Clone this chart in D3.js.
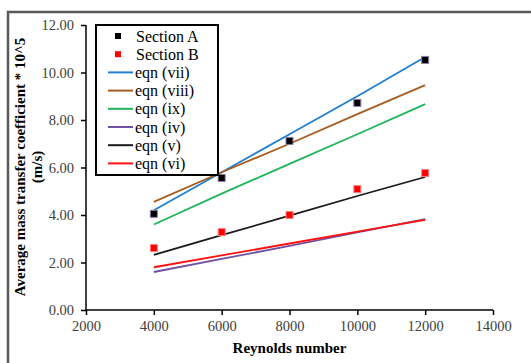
<!DOCTYPE html>
<html>
<head>
<meta charset="utf-8">
<script src="https://cdn.jsdelivr.net/npm/d3@7"></script>
<style>
  body { margin: 0; background: #fff; }
  svg { display: block; font-family: "Liberation Serif", "Times New Roman", serif; }
</style>
</head>
<body>
<div id="chart"></div>
<script>
// Reynolds numbers
var reynolds = [4000, 6000, 8000, 10000, 12000];

// measured points
var sectionA = [4.05, 5.56, 7.12, 8.72, 10.53];
var sectionB = [2.61, 3.28, 4.0, 5.09, 5.77];

// correlation lines
var eqnVii = [4.2, 5.8, 7.4, 9.0, 10.65];
var eqnViii = [4.55, 5.8, 7.0, 8.25, 9.47];
var eqnIx = [3.6, 4.9, 6.15, 7.4, 8.67];
var eqnIv = [1.6, 2.15, 2.7, 3.27, 3.83];
var eqnV = [2.32, 3.15, 3.97, 4.8, 5.6];
var eqnVi = [1.8, 2.3, 2.8, 3.3, 3.79];

var xTicks = [2000, 4000, 6000, 8000, 10000, 12000, 14000];
var yTicks = [0, 2, 4, 6, 8, 10, 12];

var lines = [
    { name: "eqn (vii)", values: eqnVii, color: "#1f7fd0" },
    { name: "eqn (viii)", values: eqnViii, color: "#a85b1e" },
    { name: "eqn (ix)", values: eqnIx, color: "#1fb55a" },
    { name: "eqn (iv)", values: eqnIv, color: "#7050a0" },
    { name: "eqn (v)", values: eqnV, color: "#1a1a1a" },
    { name: "eqn (vi)", values: eqnVi, color: "#ff1010" }
];

var W = 531, H = 363;
var margin = { top: 25, left: 86, right: 38, bottom: 53 };
var width = W - margin.left - margin.right,
    height = H - margin.top - margin.bottom;

var svg = d3.select("#chart").append("svg")
    .attr("width", W).attr("height", H);

// outer frame
svg.append("path")
    .attr("d", "M8," + (H + 5) + "V12H" + (W + 5))
    .attr("fill", "none")
    .attr("stroke", "#5a5a5a")
    .attr("stroke-width", 2.5);

var chart = svg.append("g")
    .attr("transform", "translate(" + margin.left + "," + margin.top + ")");

var xScale = d3.scaleLinear().domain([2000, 14000]).range([0, width]);
var yScale = d3.scaleLinear().domain([0, 12]).range([height, 0]);

// axes
var xAxis = chart.append("g")
    .attr("transform", "translate(0," + height + ")")
    .call(d3.axisBottom(xScale).tickValues(xTicks).tickSize(5).tickFormat(d3.format("d")));
var yAxis = chart.append("g")
    .call(d3.axisLeft(yScale).tickValues(yTicks).tickSize(5).tickFormat(d3.format(".2f")));

[xAxis, yAxis].forEach(function (a) {
    a.selectAll("path, line").attr("stroke", "#000").attr("stroke-width", 1.5);
    a.select(".domain").attr("d", a === xAxis ? "M0,0H" + width : "M0," + height + "V0");
    a.selectAll("text")
        .attr("fill", "#404040")
        .style("font-family", "'Liberation Serif', serif")
        .style("font-size", "14.5px");
});
xAxis.selectAll("text").attr("dy", "0.9em").attr("y", 8);
yAxis.selectAll("text").attr("x", -12);

// line series
var line = d3.line()
    .x(function (d, i) { return xScale(reynolds[i]); })
    .y(function (d) { return yScale(d); });

chart.selectAll(".eqn")
    .data(lines)
    .enter()
    .append("path")
    .attr("class", "eqn")
    .attr("d", function (d) { return line(d.values); })
    .attr("fill", "none")
    .attr("stroke", function (d) { return d.color; })
    .attr("stroke-width", 1.8);

// markers
function drawMarkers(vals, fill, stroke) {
    chart.selectAll(null)
        .data(vals)
        .enter()
        .append("rect")
        .attr("x", function (d, i) { return xScale(reynolds[i]) - 3.5; })
        .attr("y", function (d) { return yScale(d) - 3.5; })
        .attr("width", 7).attr("height", 7)
        .attr("fill", fill)
        .attr("stroke", stroke)
        .attr("stroke-width", 1);
}
drawMarkers(sectionA, "#000", "#8a7aa8");
drawMarkers(sectionB, "#ff0000", "#ff8080");

// legend
var legend = svg.append("g").attr("transform", "translate(96,25)");
legend.append("rect")
    .attr("width", 122).attr("height", 150)
    .attr("fill", "#fff")
    .attr("stroke", "#000")
    .attr("stroke-width", 2);

var legendItems = [
    { name: "Section A", marker: "#000" },
    { name: "Section B", marker: "#ff0000" }
].concat(lines);

legendItems.forEach(function (d, i) {
    var y = 11 + i * 18.2;
    if (d.marker) {
        legend.append("rect")
            .attr("x", 19).attr("y", y - 3).attr("width", 6).attr("height", 6)
            .attr("fill", d.marker);
    } else {
        legend.append("line")
            .attr("x1", 12).attr("x2", 37).attr("y1", y).attr("y2", y)
            .attr("stroke", d.color).attr("stroke-width", 2);
    }
    legend.append("text")
        .attr("x", d.marker ? 40 : 39).attr("y", y)
        .attr("dy", "0.35em")
        .style("font-size", "16px")
        .attr("fill", "#000")
        .text(d.name);
});

// axis titles
svg.append("text")
    .attr("x", margin.left + xScale(8000)).attr("y", 353)
    .attr("text-anchor", "middle")
    .style("font-size", "15px").style("font-weight", "bold")
    .text("Reynolds number");

var yTitle = svg.append("text")
    .attr("transform", "translate(25,167) rotate(-90)")
    .attr("text-anchor", "middle")
    .style("font-size", "15px").style("font-weight", "bold");
yTitle.append("tspan").attr("x", 0).attr("dy", 0)
    .text("Average mass transfer coefficient * 10^5");
yTitle.append("tspan").attr("x", 0).attr("dy", "1.15em").text("(m/s)");
</script>
</body>
</html>
